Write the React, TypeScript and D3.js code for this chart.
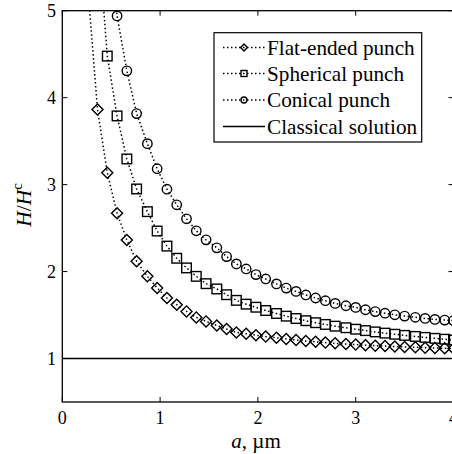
import React from "react";
import * as d3 from "d3";

// contact radius a (µm) at each marker
const aValues = [0.26, 0.36, 0.46, 0.56, 0.66, 0.76, 0.87, 0.97, 1.07, 1.17, 1.27, 1.37, 1.47, 1.58, 1.68, 1.78, 1.88, 1.98, 2.08, 2.19, 2.29, 2.39, 2.49, 2.59, 2.69, 2.79, 2.9, 3.0, 3.1, 3.2, 3.3, 3.4, 3.5, 3.61, 3.71, 3.81, 3.91, 4.0];

const flatValues = [5.28, 3.863, 3.137, 2.67, 2.363, 2.118, 1.945, 1.812, 1.696, 1.619, 1.542, 1.473, 1.427, 1.38, 1.339, 1.3, 1.285, 1.268, 1.252, 1.238, 1.225, 1.213, 1.202, 1.192, 1.183, 1.175, 1.167, 1.16, 1.154, 1.148, 1.143, 1.138, 1.133, 1.129, 1.125, 1.121, 1.118, 1.115];
const sphericalValues = [null, 5.95, 4.478, 3.79, 3.295, 2.95, 2.689, 2.466, 2.293, 2.153, 2.042, 1.945, 1.861, 1.8, 1.734, 1.669, 1.625, 1.59, 1.552, 1.518, 1.487, 1.46, 1.435, 1.412, 1.392, 1.372, 1.354, 1.337, 1.321, 1.306, 1.292, 1.279, 1.266, 1.254, 1.243, 1.232, 1.222, 1.212];
const conicalValues = [null, null, 5.8, 4.94, 4.308, 3.817, 3.471, 3.183, 2.947, 2.768, 2.607, 2.469, 2.365, 2.273, 2.172, 2.088, 2.03, 1.965, 1.915, 1.858, 1.81, 1.772, 1.731, 1.696, 1.665, 1.634, 1.607, 1.588, 1.561, 1.54, 1.521, 1.503, 1.488, 1.474, 1.461, 1.45, 1.442, 1.435];
const classicalA = [0, 4];
const classicalValues = [1, 1];

const xTicks = [0, 1, 2, 3, 4];
const yTicks = [1, 2, 3, 4, 5];
const legendLabels = ["Flat-ended punch", "Spherical punch", "Conical punch", "Classical solution"];

const W = 452, H = 454;
const left = 62.3, right = 453.5, top = 10.7, bottom = 402;

const FONT = '"Liberation Serif", "Times New Roman", Times';

function Marker({ type, x, y, s }: { type: string; x: number; y: number; s: number }) {
  const st = { fill: "none", stroke: "#000", strokeWidth: 1.4 };
  if (type === "diamond") {
    const d = s * 1.15;
    return <path d={`M${x},${y - d}L${x + d},${y}L${x},${y + d}L${x - d},${y}Z`} {...st} />;
  }
  if (type === "square") {
    return <rect x={x - s} y={y - s} width={2 * s} height={2 * s} {...st} />;
  }
  return <circle cx={x} cy={y} r={s} {...st} />;
}

export default function App() {
  const x = d3.scaleLinear().domain([0, 4]).range([left, right]);
  const y = d3.scaleLinear().domain([0.5, 5]).range([bottom, top]);

  const series = [
    { vals: flatValues, type: "diamond" },
    { vals: sphericalValues, type: "square" },
    { vals: conicalValues, type: "circle" },
  ];

  const line = d3
    .line<[number, number | null]>()
    .defined((d) => d[1] != null)
    .x((d) => x(d[0]))
    .y((d) => y(d[1] as number));

  const classicalLine = d3
    .line<[number, number]>()
    .x((d) => x(d[0]))
    .y((d) => y(d[1]));

  const rows = [47.5, 73.5, 100, 126.5];
  const lgX0 = 214, lgX1 = 421.7, lgY0 = 32.7, lgY1 = 142;
  const ts = (size: number) => ({ fontFamily: FONT, fontSize: size });

  return (
    <svg width={W} height={H} style={{ position: "absolute", left: 0, top: 0, background: "#fff" }}>
      <defs>
        <clipPath id="plotClip">
          <rect x={left} y={top} width={right - left} height={bottom - top} />
        </clipPath>
      </defs>
      <rect x={0} y={0} width={W} height={H} fill="#fff" />
      <g clipPath="url(#plotClip)">
        <path d={classicalLine(classicalA.map((a, i) => [a, classicalValues[i]]) as [number, number][]) || ""} fill="none" stroke="#000" strokeWidth={1.3} />
        {series.map((s, si) => (
          <g key={si}>
            <path
              d={line(aValues.map((a, i) => [a, s.vals[i]]) as [number, number | null][]) || ""}
              fill="none"
              stroke="#000"
              strokeWidth={1.5}
              strokeDasharray="1.5,2.5"
            />
            {aValues.map((a, i) =>
              s.vals[i] == null ? null : <Marker key={i} type={s.type} x={x(a)} y={y(s.vals[i] as number)} s={s.type === "circle" ? 4.7 : 4.8} />
            )}
          </g>
        ))}
      </g>
      {/* frame */}
      <rect x={left} y={top} width={right - left} height={bottom - top} fill="none" stroke="#000" strokeWidth={1.3} />
      {/* ticks */}
      {xTicks.map((t) => (
        <g key={"x" + t}>
          <line x1={x(t)} x2={x(t)} y1={bottom} y2={bottom - 5} stroke="#000" strokeWidth={1} />
          <line x1={x(t)} x2={x(t)} y1={top} y2={top + 5} stroke="#000" strokeWidth={1} />
          <text x={x(t)} y={424} textAnchor="middle" style={ts(18)}>{t}</text>
        </g>
      ))}
      {yTicks.map((t) => (
        <g key={"y" + t}>
          <line x1={left} x2={left + 5} y1={y(t)} y2={y(t)} stroke="#000" strokeWidth={1} />
          <line x1={right} x2={right - 5} y1={y(t)} y2={y(t)} stroke="#000" strokeWidth={1} />
          <text x={56} y={y(t) + 6.5} textAnchor="end" style={ts(18)}>{t}</text>
        </g>
      ))}
      {/* axis labels */}
      <text x={256} y={448} textAnchor="middle" style={ts(21)}>
        <tspan fontStyle="italic">a</tspan>, µm
      </text>
      <text transform="translate(31,205) rotate(-90)" textAnchor="middle" style={ts(21.5)}>
        <tspan fontStyle="italic">H</tspan>/<tspan fontStyle="italic">H</tspan>
        <tspan fontSize={15} dy={-9}>c</tspan>
      </text>
      {/* legend */}
      <rect x={lgX0} y={lgY0} width={lgX1 - lgX0} height={lgY1 - lgY0} fill="#fff" stroke="#000" strokeWidth={1.2} />
      {legendLabels.map((lab, i) => (
        <g key={lab}>
          {i < 3 ? (
            <>
              <line x1={223} x2={265} y1={rows[i]} y2={rows[i]} stroke="#000" strokeWidth={1.5} strokeDasharray="1.5,2.5" />
              <Marker type={series[i].type} x={244} y={rows[i]} s={3} />
            </>
          ) : (
            <line x1={223} x2={265} y1={rows[i]} y2={rows[i]} stroke="#000" strokeWidth={1.3} />
          )}
          <text x={267} y={rows[i] + 7.3} style={ts(21.2)}>{lab}</text>
        </g>
      ))}
    </svg>
  );
}
